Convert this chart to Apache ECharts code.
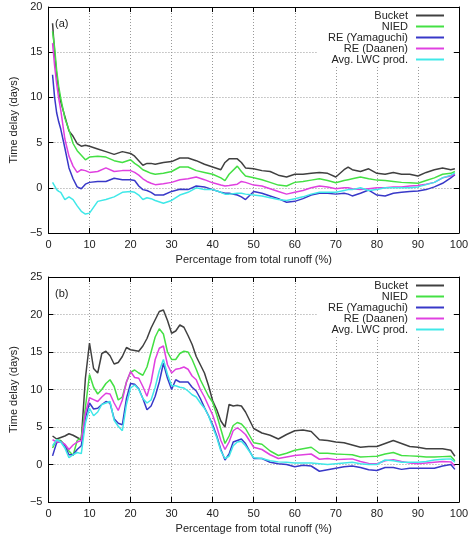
<!DOCTYPE html>
<html>
<head>
<meta charset="utf-8">
<title>Time delay</title>
<style>
  html, body { margin: 0; padding: 0; width: 100%; height: 100%; overflow: hidden; background: #fff; }
  #main { width: 473px; height: 535px; }
</style>
<script src="https://cdn.jsdelivr.net/npm/echarts@6/dist/echarts.min.js"></script>
</head>
<body>
<div id="main"></div>
<script type="text/javascript">
// series names / colours
var names = ['Bucket', 'NIED', 'RE (Yamaguchi)', 'RE (Daanen)', 'Avg. LWC prod.'];
var colors = ['#404040', '#44e044', '#3838c8', '#e040e0', '#40e8e8'];

// (a) percentage from total runoff
var xA = [1,1.5,2,2.5,3,4,5,6,7,8, 9,10,12,14,16,18,20,21,22,23,
  24,25,26,28,30,32,34,36,38,40, 42,43,44,46,47,48,50,52,54,56,
  58,60,62,64,66,68,70,72,73,74, 76,78,80,82,84,86,88,90,92,94, 96,98,99];
var bucketA = [18.2,15.0,12.5,10.8,9.5,7.9,6.3,5.7,4.9,4.6, 4.7,4.6,4.3,4.0,3.7,4.0,3.8,3.5,3.0,2.5,
  2.7,2.7,2.6,2.8,2.9,3.3,3.3,3.0,2.6,2.3, 2.0,2.8,3.2,3.2,2.8,2.2,2.1,1.9,1.8,1.4,
  1.2,1.5,1.5,1.6,1.7,1.6,1.2,2.0,2.3,2.0, 1.8,2.1,1.6,1.5,1.7,1.5,1.5,1.3,1.7,2.0, 2.2,2.0,2.1];
var niedA = [17.3,15.5,13.0,11.2,9.9,7.7,6.4,4.9,4.1,3.6, 3.1,3.4,3.5,3.4,3.0,2.8,3.1,2.7,2.4,2.0,
  1.8,1.6,1.5,1.6,1.8,2.3,2.3,1.9,1.7,1.5, 1.1,0.8,1.5,2.4,1.8,1.3,1.1,0.9,0.6,0.3,
  0.2,0.6,0.7,0.85,1.0,0.8,0.55,0.8,0.9,1.0, 1.2,1.0,0.85,0.8,0.7,0.6,0.55,0.5,0.8,1.1, 1.5,1.6,1.8];
var yamaA = [12.5,10.0,8.3,7.3,6.5,4.4,2.2,1.0,0.1,-0.1, 0.4,0.6,0.7,0.7,1.05,0.9,0.9,0.8,0.2,-0.2,
  -0.3,-0.5,-0.8,-0.8,-0.4,-0.15,-0.2,0.2,0.1,-0.2, -0.5,-0.6,-0.6,-0.8,-1.0,-1.3,-0.4,-0.6,-0.9,-1.2,
  -1.6,-1.5,-1.2,-0.8,-0.6,-0.6,-0.7,-0.6,-0.7,-0.9, -0.6,-0.25,-0.8,-0.9,-0.6,-0.5,-0.4,-0.35,-0.2,0.1, 0.5,1.1,1.45];
var daanenA = [16.0,13.5,11.5,9.9,8.6,5.4,3.5,2.4,1.7,2.0, 1.9,1.7,1.8,2.2,1.8,1.9,1.9,1.7,1.4,1.0,
  0.7,0.5,0.35,0.45,0.6,0.9,1.0,1.2,0.9,0.55, 0.3,0.2,0.25,0.4,0.7,0.6,0.3,0.2,-0.1,-0.4,
  -0.7,-0.5,-0.3,0.0,0.2,0.1,-0.1,0.0,0.0,-0.1, -0.2,-0.1,0.0,0.0,0.1,0.1,0.2,0.25,0.4,0.6, 1.1,1.3,1.55];
var lwcA = [0.6,0.2,-0.2,-0.4,-0.5,-1.3,-1.0,-1.3,-2.0,-2.6, -2.9,-2.8,-1.5,-1.3,-1.0,-0.5,-0.4,-0.5,-0.8,-1.3,
  -1.1,-1.2,-1.4,-1.7,-1.4,-0.8,-0.5,0.0,-0.2,-0.2, -0.5,-0.7,-0.7,-0.6,-0.6,-0.7,-0.8,-0.9,-1.1,-1.3,
  -1.4,-1.2,-1.0,-0.7,-0.5,-0.5,-0.5,-0.3,-0.2,-0.2, 0.0,-0.3,-0.2,0.0,0.0,0.0,0.0,0.1,0.35,0.6, 1.1,1.4,1.65];

// (b)
var xB = [1,2,3,4,5,6,7,8,9,10, 11,12,13,14,15,16,17,18,19,20,
  21,22,23,24,25,26,27,28,29,30, 31,32,33,34,35,36,37,38,39,40,
  41,42,43,44,45,46,47,48,
  50,52,54,56,58,60,62,64,66,68,70,72,74,76,78,80,82,84,86,88,90,92,94,96,98, 99];
var bucketB = [3.8,3.4,3.6,3.8,4.1,3.9,3.6,3.3,11.5,16.2, 12.8,12.2,14.8,15.1,14.5,13.4,13.6,14.4,15.6,15.3,
  15.2,15.1,15.8,16.8,18.2,19.3,20.4,20.6,19.2,17.5, 17.8,18.6,18.3,17.2,16.0,14.4,13.3,12.2,10.5,8.5,
  7.3,5.8,5.0,8.0,7.8,7.9,7.8,7.0,
  4.8,4.2,3.9,3.4,4.0,4.5,4.6,4.4,3.3,3.2,3.0,2.9,2.6,2.3,2.4,2.4,2.8,3.2,2.8,2.4,2.3,2.1,2.1,2.1,1.9, 1.1];
var niedB = [2.2,3.3,3.2,2.6,1.8,1.2,3.2,3.6,7.6,12.0, 10.3,9.4,10.0,10.8,11.3,10.4,8.6,9.0,11.0,12.3,
  12.6,12.2,11.9,13.0,15.0,17.0,18.1,17.4,15.0,14.0, 14.0,14.8,15.1,15.0,14.0,12.7,11.3,10.2,9.1,8.3,
  6.6,4.7,2.8,3.8,5.2,5.6,5.4,4.8,
  2.9,2.7,1.8,1.2,1.5,1.9,2.1,2.3,1.5,1.5,1.4,1.35,1.3,1.0,1.05,1.1,1.4,1.6,1.2,1.15,1.1,1.0,1.0,1.05,1.1, 0.5];
var yamaB = [1.15,2.9,3.1,2.5,1.3,1.3,2.0,2.5,6.2,8.2, 7.4,7.5,8.0,8.4,8.2,6.1,5.5,5.3,8.8,10.8,
  10.7,10.1,8.8,7.3,7.8,9.1,11.0,13.5,11.5,10.0, 11.3,11.0,11.0,11.0,10.3,9.8,8.8,7.6,6.5,5.3,
  3.8,2.0,0.6,1.4,3.0,3.2,3.4,2.8,
  0.8,0.8,0.3,0.1,0.0,-0.3,-0.1,-0.2,-0.9,-0.7,-0.5,-0.3,-0.2,-0.4,-0.7,-0.8,-0.4,-0.4,-0.65,-0.5,-0.5,-0.5,-0.5,-0.2,0.0, -0.65];
var daanenB = [3.3,3.0,3.0,2.7,2.0,2.6,3.0,3.2,6.8,8.9, 8.65,8.4,9.0,9.5,9.4,8.2,7.2,8.6,11.0,12.4,
  11.6,11.5,10.4,9.1,11.0,14.0,15.5,15.8,13.3,12.2, 12.7,12.8,13.0,12.7,11.8,11.3,10.0,9.0,7.8,6.6,
  5.0,3.2,2.0,3.0,4.5,4.9,4.5,4.0,
  2.3,2.0,1.3,0.8,1.0,1.2,1.3,1.4,0.7,0.8,0.65,0.7,0.75,0.4,0.15,0.1,0.5,0.65,0.4,0.2,0.1,0.2,0.3,0.4,0.35, -0.2];
var lwcB = [2.5,3.3,3.0,2.2,0.9,1.3,1.6,1.45,5.5,7.5, 6.5,7.0,8.0,8.2,8.4,5.9,5.1,4.5,8.0,10.2,
  10.6,10.0,8.8,8.2,8.6,10.3,12.5,14.0,12.0,10.5, 10.5,10.3,10.2,9.8,9.3,9.0,8.2,7.5,6.5,5.0,
  3.6,1.8,0.8,1.1,2.5,3.0,3.1,2.5,
  0.9,0.8,0.5,0.35,0.3,0.2,0.2,0.2,0.1,0.0,0.1,0.2,0.3,0.1,0.0,0.0,0.6,0.5,0.3,0.3,0.3,0.4,0.6,0.7,0.75, 0.3];

var font = '"Liberation Sans", Arial, sans-serif';
var txt = '#222';

var grids = [
  { left: 44, right: 14, top: 7, height: 226, ymin: -5, ymax: 20, xs: xA, ys: [bucketA, niedA, yamaA, daanenA, lwcA], legTop: 10, tag: '(a)' },
  { left: 44, right: 14, top: 277, height: 226, ymin: -5, ymax: 25, xs: xB, ys: [bucketB, niedB, yamaB, daanenB, lwcB], legTop: 280, tag: '(b)' }
];

var option = {
  animation: false,
  backgroundColor: '#fff',
  textStyle: { fontFamily: font },
  grid: [], xAxis: [], yAxis: [], series: [], legend: [], graphic: []
};

grids.forEach(function (g, gi) {
  option.grid.push({ left: g.left, right: g.right, top: g.top, height: g.height });
  var lineSt = { show: true, onZero: false, lineStyle: { color: '#000', width: 1 } };
  var tickSt = { show: true, inside: true, length: 5, lineStyle: { color: '#000' } };
  var gridSt = { show: true, lineStyle: { color: '#999', type: [1, 2], width: 1 } };
  // bottom x axis
  option.xAxis.push({
    type: 'value', gridIndex: gi, min: 0, max: 100, interval: 10, position: 'bottom',
    axisLine: lineSt, axisTick: tickSt,
    axisLabel: { color: txt, fontSize: 11, margin: 6 },
    splitLine: gridSt,
    name: 'Percentage from total runoff (%)', nameLocation: 'middle', nameGap: 21,
    nameTextStyle: { color: txt, fontSize: 11 }
  });
  // mirrored top x axis
  option.xAxis.push({
    type: 'value', gridIndex: gi, min: 0, max: 100, interval: 10, position: 'top',
    axisLine: lineSt, axisTick: tickSt, axisLabel: { show: false }, splitLine: { show: false }
  });
  option.yAxis.push({
    type: 'value', gridIndex: gi, min: g.ymin, max: g.ymax, interval: 5, position: 'left',
    axisLine: lineSt, axisTick: tickSt,
    axisLabel: { color: txt, fontSize: 11, margin: 6, formatter: function (v) { return v < 0 ? '\u2212' + Math.abs(v) : String(v); } },
    splitLine: gridSt,
    name: 'Time delay (days)', nameLocation: 'middle', nameGap: 24,
    nameTextStyle: { color: txt, fontSize: 11 }
  });
  option.yAxis.push({
    type: 'value', gridIndex: gi, min: g.ymin, max: g.ymax, interval: 5, position: 'right',
    axisLine: lineSt, axisTick: tickSt, axisLabel: { show: false }, splitLine: { show: false }
  });

  names.forEach(function (n, si) {
    option.series.push({
      name: n, type: 'line', xAxisIndex: gi * 2, yAxisIndex: gi * 2,
      symbol: 'none', smooth: false, z: 2 + si,
      lineStyle: { color: colors[si], width: 1.5 },
      itemStyle: { color: colors[si] },
      data: g.xs.map(function (x, i) { return [x, g.ys[si][i]]; })
    });
    option.legend.push({
      data: [n], orient: 'vertical', right: 29, top: g.legTop + si * 11,
      align: 'right', padding: 0, itemGap: 0, itemWidth: 28, itemHeight: 2, icon: 'rect',
      selectedMode: false, z: 20,
      textStyle: { color: txt, fontSize: 11, lineHeight: 11, padding: [0, 3, 0, 0], fontFamily: font }
    });
  });

  // white box behind the key
  option.graphic.push({
    type: 'rect', z: 10,
    shape: { x: 317, y: g.top + 1, width: 135, height: 57 },
    style: { fill: '#fff' }
  });
  option.graphic.push({
    type: 'text', z: 11, left: 55, top: g.top + 11,
    style: { text: g.tag, fill: txt, font: '11px ' + font }
  });
});

var myChart = echarts.init(document.getElementById('main'), null, { renderer: 'canvas' });
myChart.setOption(option);
</script>
</body>
</html>
